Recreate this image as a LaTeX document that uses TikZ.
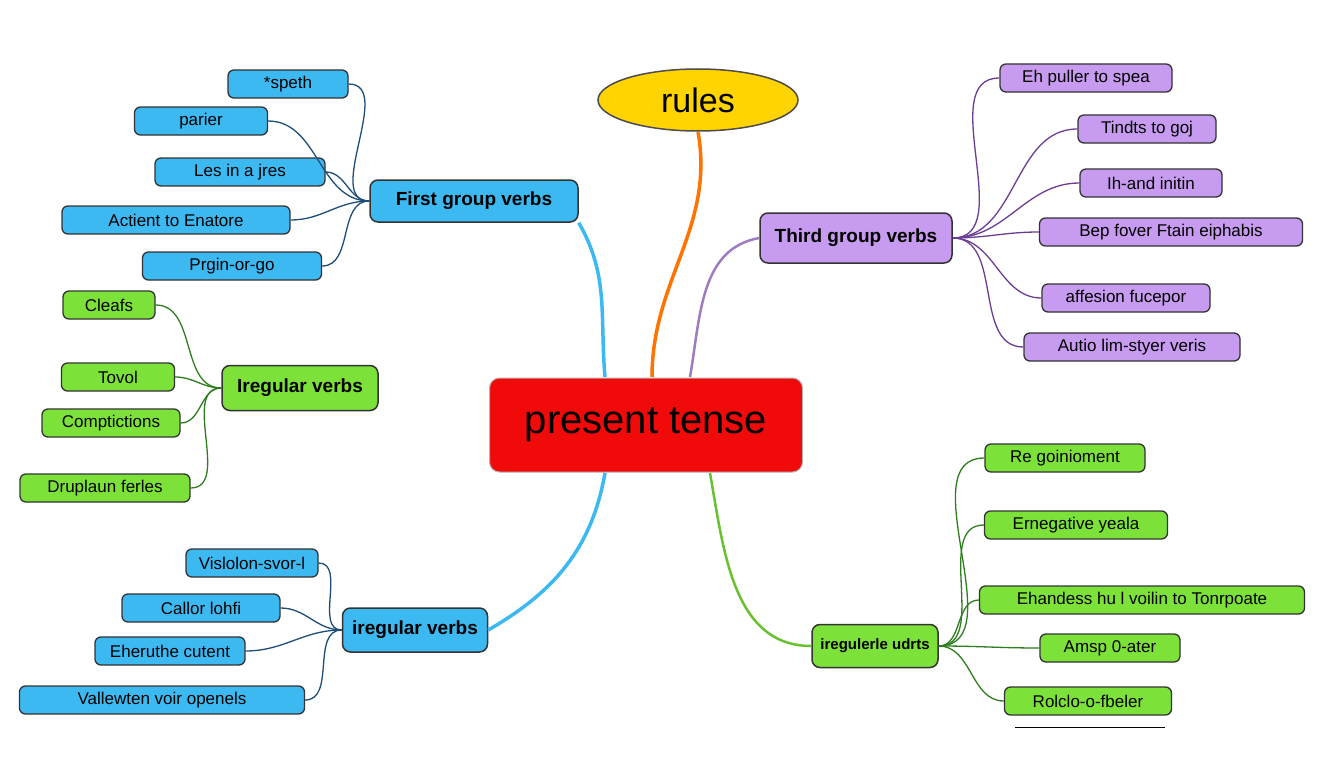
\documentclass[tikz,border=0pt]{standalone}
\usepackage{fontspec}
\setmainfont{Liberation Sans}
\usetikzlibrary{shapes.geometric}
\definecolor{cblue}{HTML}{3DB9F2}
\definecolor{cgreen}{HTML}{7CE23A}
\definecolor{cpurp}{HTML}{C79BEF}
\definecolor{cred}{HTML}{F00A0A}
\definecolor{cyel}{HTML}{FFD400}
\definecolor{lblue}{HTML}{1E4E78}
\definecolor{lgreen}{HTML}{2E7D1E}
\definecolor{lpurp}{HTML}{6B3E94}
\begin{document}
\begin{tikzpicture}[x=1pt,y=-1pt,
 leaf/.style={draw=black!80,line width=1.3pt,rounded corners=6pt,minimum height=28pt,inner sep=0pt,font=\fontsize{17}{17}\selectfont},
 bl/.style={leaf,fill=cblue},gl/.style={leaf,fill=cgreen},pl/.style={leaf,fill=cpurp},
 br/.style={draw=black!80,line width=1.5pt,rounded corners=8pt,inner sep=0pt,font=\bfseries\fontsize{19}{19}\selectfont},
 lb/.style={lblue,line width=1.3pt},lg/.style={lgreen,line width=1.3pt},lp/.style={lpurp,line width=1.3pt}]
\useasboundingbox (0,0) rectangle (1344,768);
\fill[white] (0,0) rectangle (1344,768);
% main
\node[draw=black!70,line width=1.5pt,fill=cyel,ellipse,minimum width=200pt,minimum height=62pt,font=\fontsize{34}{34}\selectfont] (rules) at (698,100) {rules};
\node[draw=black!30,line width=1pt,fill=cred,rounded corners=10pt,minimum width=313pt,minimum height=94pt,font=\fontsize{40}{40}\selectfont] (pt) at (646,425) {present tense};
\node[br,fill=cblue,minimum width=208pt,minimum height=42pt] (fg) at (474,201) {First group verbs};
\node[br,fill=cgreen,minimum width=156pt,minimum height=45pt] (ig) at (300,388) {Iregular verbs};
\node[br,fill=cblue,minimum width=145pt,minimum height=44pt] (ib) at (415,630) {iregular verbs};
\node[br,fill=cpurp,minimum width=192pt,minimum height=50pt] (tg) at (856,238) {Third group verbs};
\node[br,fill=cgreen,minimum width=126pt,minimum height=43pt,font=\bfseries\fontsize{15}{15}\selectfont] (ir) at (875,646) {iregulerle udrts};
% main connectors
\draw[cblue,line width=3.5pt] (605,377) to[out=95,in=-60] (fg.south east);
\draw[orange!90!red,line width=3.5pt] (652,377) to[out=90,in=-80] (rules.south);
\draw[cpurp!80!black,line width=2.5pt] (690,377) to[out=80,in=190] (tg.west);
\draw[cblue,line width=3.5pt] (605,473) to[out=-100,in=30] (ib.east);
\draw[cgreen!85!black,line width=2.5pt] (710,473) to[out=-80,in=180] (ir.west);
% first group leaves
\node[bl,minimum width=120pt] (a1) at (288,84) {*speth};
\node[bl,minimum width=133pt] (a2) at (201,121) {parier};
\node[bl,minimum width=170pt] (a3) at (240,172) {Les in a jres};
\node[bl,minimum width=228pt] (a4) at (176,220) {Actient to Enatore};
\node[bl,minimum width=179pt] (a5) at (232,266) {Prgin-or-go};
\foreach \n in {a1,a2,a3,a4,a5} \draw[lb] (\n.east) to[out=0,in=180] (fg.west);
% irregular green leaves
\node[gl,minimum width=92pt] (b1) at (109,305) {Cleafs};
\node[gl,minimum width=113pt] (b2) at (118,377) {Tovol};
\node[gl,minimum width=138pt] (b3) at (111,423) {Comptictions};
\node[gl,minimum width=170pt] (b4) at (105,488) {Druplaun ferles};
\foreach \n in {b1,b2,b3,b4} \draw[lg] (\n.east) to[out=0,in=180] (ig.west);
% irregular blue leaves
\node[bl,minimum width=132pt] (c1) at (252,563) {Vislolon-svor-l};
\node[bl,minimum width=158pt] (c2) at (201,608) {Callor lohfi};
\node[bl,minimum width=150pt] (c3) at (170,651) {Eheruthe cutent};
\node[bl,minimum width=285pt] (c4) at (162,700) {Vallewten voir openels};
\foreach \n in {c1,c2,c3,c4} \draw[lb] (\n.east) to[out=0,in=180] (ib.west);
% third group leaves
\node[pl,minimum width=172pt] (d1) at (1086,78) {Eh puller to spea};
\node[pl,minimum width=138pt] (d2) at (1147,129) {Tindts to goj};
\node[pl,minimum width=142pt] (d3) at (1151,183) {Ih-and initin};
\node[pl,minimum width=263pt] (d4) at (1171,232) {Bep fover Ftain eiphabis};
\node[pl,minimum width=168pt] (d5) at (1126,298) {affesion fucepor};
\node[pl,minimum width=216pt] (d6) at (1132,347) {Autio lim-styer veris};
\foreach \n in {d1,d2,d3,d4,d5,d6} \draw[lp] (tg.east) to[out=0,in=180] (\n.west);
% irregular right leaves
\node[gl,minimum width=160pt] (e1) at (1065,458) {Re goinioment};
\node[gl,minimum width=183pt] (e2) at (1076,525) {Ernegative yeala};
\node[gl,minimum width=325pt] (e3) at (1142,600) {Ehandess hu l voilin to Tonrpoate};
\node[gl,minimum width=140pt] (e4) at (1110,648) {Amsp 0-ater};
\node[gl,minimum width=167pt] (e5) at (1088,701) {Rolclo-o-fbeler};
\foreach \n in {e1,e2,e3,e4,e5} \draw[lg] (ir.east) to[out=0,in=180] (\n.west);
\draw[line width=1pt] (1015,727) -- (1165,727);
\end{tikzpicture}
\end{document}
